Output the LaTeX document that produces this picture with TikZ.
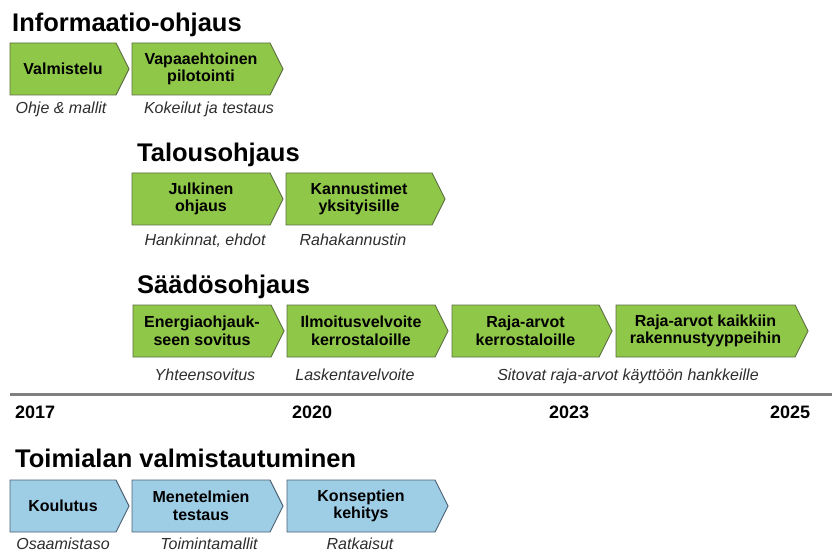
\documentclass[tikz,border=0pt]{standalone}
\usepackage{fontspec}
\setmainfont{Liberation Sans}
\definecolor{leafgreen}{RGB}{143,199,72}
\definecolor{leafedge}{RGB}{92,110,66}
\definecolor{skyblue}{RGB}{158,206,230}
\definecolor{skyedge}{RGB}{78,96,116}
\definecolor{axisgray}{RGB}{128,128,128}
\definecolor{notegray}{RGB}{45,45,45}
\tikzset{
  greenstep/.style={fill=leafgreen, draw=leafedge, line width=0.9pt, line join=miter},
  bluestep/.style={fill=skyblue, draw=skyedge, line width=0.9pt, line join=miter},
  boxtext/.style={align=center, inner sep=0pt, font=\fontsize{16}{17.5}\selectfont\bfseries, text=black},
  heading/.style={anchor=base west, inner sep=0pt, font=\fontsize{25.5}{28}\selectfont\bfseries, text=black},
  note/.style={anchor=base, inner sep=0pt, font=\fontsize{16}{18}\selectfont\itshape, text=notegray},
  year/.style={anchor=base west, inner sep=0pt, font=\fontsize{18}{20}\selectfont\bfseries, text=black},
}
% chevron box: name, left x, tip x, top y, style, text
\newcommand\chevbox[6]{%
  \draw[#5] (#2,#4) -- (#3-13,#4) -- (#3,#4+26) -- (#3-13,#4+52) -- (#2,#4+52) -- cycle;
  \node[boxtext] (#1) at ({(#2+#3-13)/2},#4+26) {#6};
}
\begin{document}
\begin{tikzpicture}[x=1pt,y=-1pt]
\useasboundingbox (0,0) rectangle (832,553);

% Informaatio-ohjaus
\node[heading] (h1) at (12,32) {Informaatio-ohjaus};
\chevbox{a1}{10}{129}{43}{greenstep}{Valmistelu}
\chevbox{a2}{132}{283}{43}{greenstep}{Vapaaehtoinen\\pilotointi}
\node[note] (a1n) at (61,114) {Ohje \& mallit};
\node[note] (a2n) at (209,114) {Kokeilut ja testaus};

% Talousohjaus
\node[heading] (h2) at (137,162) {Talousohjaus};
\chevbox{b1}{132}{283}{173}{greenstep}{Julkinen\\ohjaus}
\chevbox{b2}{286}{445}{173}{greenstep}{Kannustimet\\yksityisille}
\node[note] (b1n) at (205,246) {Hankinnat, ehdot};
\node[note] (b2n) at (353,246) {Rahakannustin};

% Säädösohjaus
\node[heading] (h3) at (137,293) {Säädösohjaus};
\chevbox{c1}{133}{284}{305}{greenstep}{Energiaohjauk-\\seen sovitus}
\chevbox{c2}{287}{448}{305}{greenstep}{Ilmoitusvelvoite\\kerrostaloille}
\chevbox{c3}{452}{612}{305}{greenstep}{Raja-arvot\\kerrostaloille}
\chevbox{c4}{616}{808}{305}{greenstep}{Raja-arvot kaikkiin\\rakennustyyppeihin}
\node[note] (c1n) at (205,380) {Yhteensovitus};
\node[note] (c2n) at (355,380) {Laskentavelvoite};
\node[note] (c3n) at (628,380) {Sitovat raja-arvot käyttöön hankkeille};

% Timeline
\coordinate (t0) at (10,394.5);
\coordinate (t1) at (832,394.5);
\draw[axisgray, line width=3pt] (t0) -- (t1);
\node[year] (y17) at (15,418) {2017};
\node[year] (y20) at (292,418) {2020};
\node[year] (y23) at (549,418) {2023};
\node[year] (y25) at (770,418) {2025};

% Toimialan valmistautuminen
\node[heading] (h4) at (15,467) {Toimialan valmistautuminen};
\chevbox{d1}{10}{129}{480}{bluestep}{Koulutus}
\chevbox{d2}{132}{283}{480}{bluestep}{Menetelmien\\testaus}
\chevbox{d3}{287}{448}{480}{bluestep}{Konseptien\\kehitys}
\node[note] (d1n) at (63,549) {Osaamistaso};
\node[note] (d2n) at (209,549) {Toimintamallit};
\node[note] (d3n) at (360,549) {Ratkaisut};
\end{tikzpicture}
\end{document}
